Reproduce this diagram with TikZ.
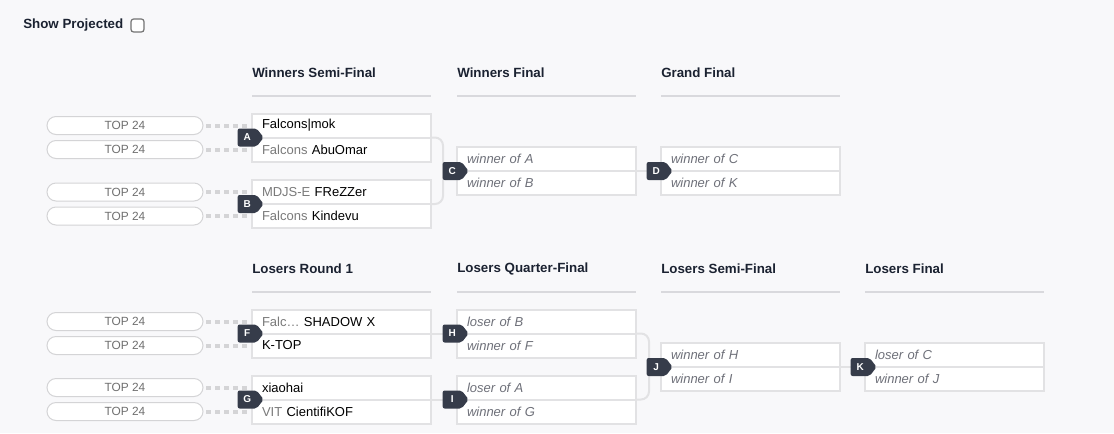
\documentclass[tikz,border=0pt]{standalone}
\usepackage{fontspec}
\setmainfont{Liberation Sans}
\usetikzlibrary{positioning, calc, shapes.symbols}

\definecolor{pagebg}{HTML}{F8F8FA}
\definecolor{slotline}{HTML}{E2E2E4}
\definecolor{badgebg}{HTML}{363C4A}
\definecolor{headtxt}{HTML}{1B2231}
\definecolor{rulecol}{HTML}{D9D9DD}
\definecolor{pregray}{HTML}{7A7A7A}
\definecolor{tbdgray}{HTML}{6E7079}
\definecolor{seedline}{HTML}{D4D4D6}
\definecolor{seedtxt}{HTML}{6F6F6F}

\newcommand{\pre}[1]{\textcolor{pregray}{#1}}
\newcommand{\tbd}[1]{\textcolor{tbdgray}{\itshape #1}}

\begin{document}
\begin{tikzpicture}[
    x=0.75pt, y=-0.75pt,
    slot/.style={draw=slotline, line width=1.5pt, fill=white, minimum width=134.25pt, minimum height=18pt, text width=119.25pt, inner xsep=7.5pt, inner ysep=0pt, outer sep=0pt, align=left, font=\fontsize{9.75}{11}\selectfont},
    badge/.style={signal, signal to=east, signal pointer angle=104, fill=badgebg, text=white, font=\fontsize{7.5}{8}\selectfont\bfseries, minimum height=13.5pt, minimum width=19.5pt, inner sep=0pt, rounded corners=1.5pt, anchor=east},
    seed/.style={draw=seedline, line width=0.75pt, fill=white, rounded corners=6.75pt, minimum width=117pt, minimum height=13.5pt, inner sep=0pt, text=seedtxt, font=\fontsize{8.9}{10}\selectfont},
    seedlink/.style={draw=seedline, line width=3pt, dash pattern=on 3.75pt off 3pt, shorten <=2pt, shorten >=1.5pt},
    link/.style={draw=slotline, line width=1.5pt},
    head/.style={anchor=west, inner sep=0pt, text=headtxt, font=\fontsize{10}{12}\selectfont\bfseries},
    rule/.style={draw=rulecol, line width=0.9pt}
]

% page
\path[use as bounding box, fill=pagebg] (0,0) rectangle (1114,433);

% --- 1. TOGGLE ---
\node[head] (toggle) at (23,25) {Show Projected};
\node[draw=black!55, fill=white, line width=0.9pt, rounded corners=2pt, minimum size=9.75pt, inner sep=0pt] (chk) at (137.5,25.5) {};

% --- 2. COLUMN HEADERS ---
\foreach \x/\t in {252/Winners Semi-Final, 457/Winners Final, 661/Grand Final} {
    \node[head] (hw\x) at (\x,73) {\t};
    \draw[rule] (\x,96) -- ++(179,0);
}
\foreach \x/\t in {252/Losers Round 1, 457/Losers Quarter-Final, 661/Losers Semi-Final, 865/Losers Final} {
    \node[head] (hl\x) at (\x,269) {\t};
    \draw[rule] (\x,292) -- ++(179,0);
}

% --- 3. WINNERS BRACKET ---
\node[slot] (A1) at (341.5,125.5) {Falcons|mok};
\node[slot, below=0pt of A1] (A2) {\pre{Falcons} AbuOmar};
\node[slot] (B1) at (341.5,192) {\pre{MDJS-E} FReZZer};
\node[slot, below=0pt of B1] (B2) {\pre{Falcons} Kindevu};

\node[slot] (C1) at (546.5,159) {\tbd{winner of A}};
\node[slot, below=0pt of C1] (C2) {\tbd{winner of B}};

\node[slot] (D1) at (750.5,159) {\tbd{winner of C}};
\node[slot, below=0pt of D1] (D2) {\tbd{winner of K}};

% --- 4. LOSERS BRACKET ---
\node[slot] (F1) at (341.5,321.5) {\pre{Falc…} SHADOW X};
\node[slot, below=0pt of F1] (F2) {K-TOP};
\node[slot] (G1) at (341.5,387.5) {xiaohai};
\node[slot, below=0pt of G1] (G2) {\pre{VIT} CientifiKOF};

\node[slot] (H1) at (546.5,321.5) {\tbd{loser of B}};
\node[slot, below=0pt of H1] (H2) {\tbd{winner of F}};
\node[slot] (I1) at (546.5,387.5) {\tbd{loser of A}};
\node[slot, below=0pt of I1] (I2) {\tbd{winner of G}};

\node[slot] (J1) at (750.5,355) {\tbd{winner of H}};
\node[slot, below=0pt of J1] (J2) {\tbd{winner of I}};

\node[slot] (K1) at (954.5,355) {\tbd{loser of C}};
\node[slot, below=0pt of K1] (K2) {\tbd{winner of J}};

% --- 5. SEEDS ---
\foreach \m in {A1, A2, B1, B2, F1, F2, G1, G2} {
    \node[seed] (s\m) at (125,0 |- \m) {TOP 24};
    \draw[seedlink] (s\m.east) -- (\m.west);
}

% --- 6. CONNECTORS ---
\draw[link, rounded corners=6pt] (A1.south east) -- ++(12,0) |- (B1.south east);
\draw[link] ($(A1.south east)!.5!(B1.south east)+(12,0)$) -- (C1.south west);
\draw[link] (C1.south east) -- (D1.south west);

\draw[link] (F1.south east) -- (H1.south west);
\draw[link] (G1.south east) -- (I1.south west);
\draw[link, rounded corners=6pt] (H1.south east) -- ++(13,0) |- (I1.south east);
\draw[link] ($(H1.south east)!.5!(I1.south east)+(13,0)$) -- (J1.south west);
\draw[link] (J1.south east) -- (K1.south west);

% --- 7. MATCH BADGES ---
\foreach \m/\l in {A1/A, B1/B, C1/C, D1/D, F1/F, G1/G, H1/H, I1/I, J1/J, K1/K} {
    \node[badge] (b\l) at ([xshift=9pt]\m.south west) {\l};
}

\end{tikzpicture}
\end{document}
